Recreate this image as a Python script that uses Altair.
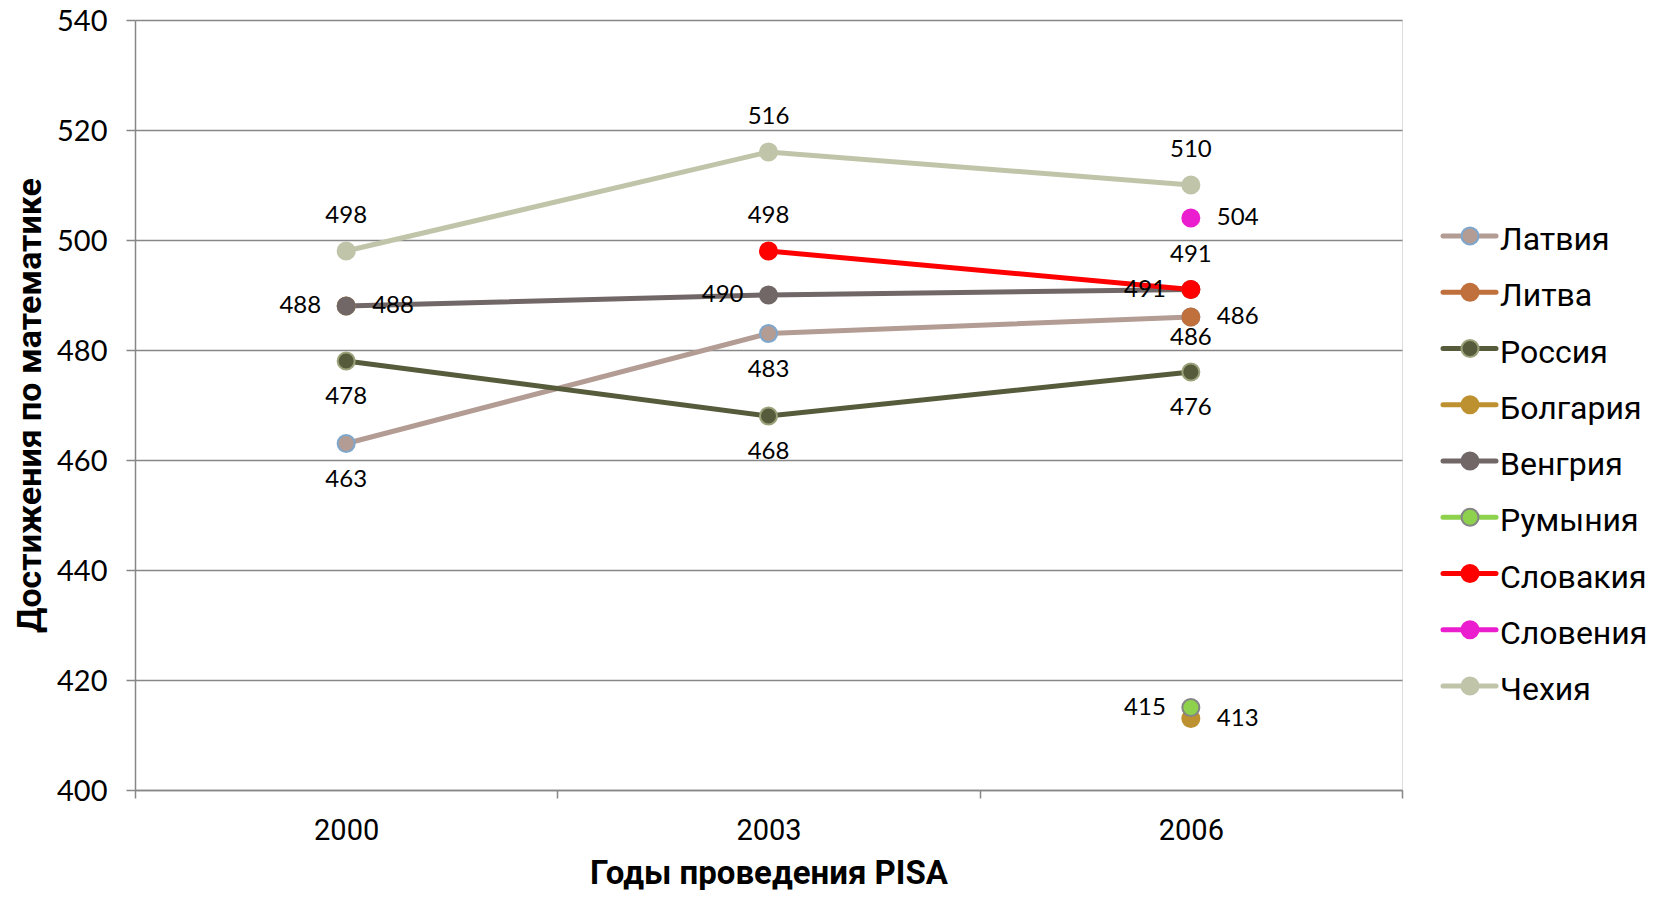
import altair as alt
import pandas as pd

years = ["2000", "2003", "2006"]
countries = ["Латвия", "Литва", "Россия", "Болгария", "Венгрия",
             "Румыния", "Словакия", "Словения", "Чехия"]

latvia    = [463, 483, 486]
lithuania = [None, None, 486]
russia    = [478, 468, 476]
bulgaria  = [488, None, 413]
hungary   = [488, 490, 491]
romania   = [None, None, 415]
slovakia  = [None, 498, 491]
slovenia  = [None, None, 504]
czech     = [498, 516, 510]

series = [latvia, lithuania, russia, bulgaria, hungary,
          romania, slovakia, slovenia, czech]

# data-label placement per point (category of placement, not coordinates)
label_place = [
    ["below", "below", "below_near"],
    [None, None, "right"],
    ["below", "below", "below"],
    ["left", None, "right"],
    ["right", "left", "left"],
    [None, None, "left"],
    [None, "above", "above"],
    [None, None, "right"],
    ["above", "above", "above"],
]

line_colors   = ["#B39C94", "#C0703C", "#565B3B", "#BD9130", "#716767",
                 "#8DD14C", "#FF0000", "#EB1ECF", "#C0C5AA"]
marker_fills  = ["#B39C94", "#C0703C", "#565B3B", "#BD9130", "#716767",
                 "#8DD14C", "#FF0000", "#EB1ECF", "#C0C5AA"]
marker_strokes = ["#7FA7CC", "#C0703C", "#9BA27A", "#BD9130", "#716767",
                  "#858585", "#FF0000", "#EB1ECF", "#C0C5AA"]
marker_sizes = [290, 290, 290, 460, 290, 290, 290, 290, 290]

rows = []
for ci, (c, vals, places) in enumerate(zip(countries, series, label_place)):
    seg = 0
    for y, v, p in zip(years, vals, places):
        if v is None:
            seg += 1  # a missing year breaks the line (gap, as in the original)
            continue
        rows.append({"country": c, "year": y, "value": v, "pos": p,
                     "seg": f"{ci}-{seg}"})
df = pd.DataFrame(rows)
leg_df = pd.DataFrame({"country": countries})

W, H = 1267, 770
GRID = "#878787"

x_enc = alt.X("year:N",
              scale=alt.Scale(type="band", domain=years, paddingInner=0, paddingOuter=0),
              axis=alt.Axis(title="Годы проведения PISA", tickBand="extent", grid=False,
                            labelAngle=0, labelFont="Roboto", labelFontSize=29,
                            labelColor="#000000", labelPadding=18, tickSize=8,
                            tickColor=GRID, tickWidth=1.5, domainColor=GRID, domainWidth=1.5,
                            titleFont="Roboto", titleFontSize=33, titleFontWeight="bold",
                            titleColor="#000000", titleBaseline="middle",
                            titleX=W / 2, titleY=83))
y_enc = alt.Y("value:Q",
              scale=alt.Scale(domain=[400, 540], nice=False, zero=False),
              axis=alt.Axis(title="Достижения по математике",
                            values=[400, 420, 440, 460, 480, 500, 520, 540],
                            grid=True, gridColor=GRID, gridWidth=1.5,
                            labelFont="Lato", labelFontSize=29, labelColor="#000000",
                            labelPadding=19, labelOffset=1, tickSize=9, tickColor=GRID,
                            tickWidth=1.5, domainColor=GRID, domainWidth=1.5,
                            titleFont="Roboto", titleFontSize=34, titleFontWeight="bold",
                            titleColor="#000000", titleBaseline="middle",
                            titleAngle=270, titleX=-105, titleY=385))

color_enc = alt.Color("country:N", scale=alt.Scale(domain=countries, range=line_colors), legend=None)
fill_enc = alt.Fill("country:N", scale=alt.Scale(domain=countries, range=marker_fills), legend=None)
stroke_enc = alt.Stroke("country:N", scale=alt.Scale(domain=countries, range=marker_strokes), legend=None)
size_enc = alt.Size("country:N", scale=alt.Scale(domain=countries, range=marker_sizes), legend=None)

base = alt.Chart(df)

lines = base.mark_line(strokeWidth=5).encode(x=x_enc, y=y_enc, color=color_enc, detail="seg:N")
points = base.mark_circle(strokeWidth=2, opacity=1).encode(
    x=x_enc, y=y_enc, fill=fill_enc, stroke=stroke_enc, size=size_enc)

offsets = {
    "above": dict(dx=0, dy=-35, align="center"),
    "below": dict(dx=0, dy=36, align="center"),
    "below_near": dict(dx=0, dy=21, align="center"),
    "left": dict(dx=-25, dy=0, align="right"),
    "right": dict(dx=26, dy=0, align="left"),
}
text_layers = []
for name, o in offsets.items():
    text_layers.append(
        base.transform_filter(alt.datum.pos == name)
        .mark_text(font="Lato", fontSize=24, color="#000000", baseline="middle", **o)
        .encode(x=x_enc, y=y_enc, text="value:Q")
    )

main = alt.layer(lines, points, *text_layers)

leg_y = alt.Y("country:N",
              scale=alt.Scale(type="point", domain=countries, range=[216, 666], padding=0),
              axis=None)
leg_base = alt.Chart(leg_df)
leg_rule = leg_base.mark_rule(strokeWidth=5, strokeCap="round").encode(
    x=alt.value(1308), x2=alt.value(1361), y=leg_y, color=color_enc)
leg_pt = leg_base.mark_circle(size=290, strokeWidth=2, opacity=1).encode(
    x=alt.value(1335), y=leg_y, fill=fill_enc, stroke=stroke_enc)
leg_txt = leg_base.mark_text(align="left", baseline="middle", dy=4, font="Roboto",
                             fontSize=32, color="#000000").encode(
    x=alt.value(1365), y=leg_y, text="country:N")
legend = alt.layer(leg_rule, leg_pt, leg_txt)

chart = (
    alt.layer(main, legend)
    .resolve_scale(y="independent", size="independent")
    .properties(width=W, height=H,
                autosize=alt.AutoSizeParams(type="none"),
                padding={"left": 127, "top": 12, "right": 250, "bottom": 100})
    .configure_view(stroke=None)
    .configure(background="#FFFFFF")
)

chart.save("out.html", embed_options={"renderer": "svg", "actions": False})
